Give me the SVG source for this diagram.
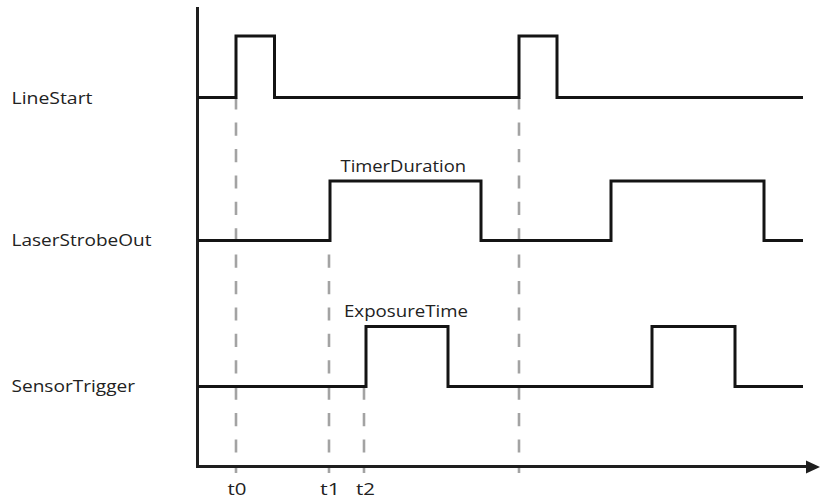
<svg xmlns="http://www.w3.org/2000/svg" width="820" height="499" viewBox="0 0 820 499">
<style>
.sig{fill:none;stroke:#141414;stroke-width:3;stroke-linejoin:miter;stroke-linecap:butt}
.axis{fill:none;stroke:#1e1e1e;stroke-width:3}
.dash{fill:none;stroke:#a3a3a3;stroke-width:2.6;stroke-dasharray:13.2 13.2;stroke-dashoffset:6}
text{font-family:"Open Sans","Liberation Sans",Arial,sans-serif;font-size:16.5px;fill:#222}
</style>
<rect width="820" height="499" fill="#fff"/>
<g id="connectors">
<path class="dash" d="M236,473 V98"/>
<path class="dash" d="M519,473 V98"/>
<path class="dash" d="M329,473 V241"/>
<path class="dash" d="M364,473 V387"/>
</g>
<g id="axes">
<path class="axis" d="M197.5,7 V468"/>
<path class="axis" d="M196,466.5 H808"/>
<polygon points="806,460.5 820,467 806,473.5" fill="#1e1e1e"/>
</g>
<g id="LineStart">
<path class="sig" d="M198,97.5 H236 V36 H274.5 V97.5 H519 V36 H557 V97.5 H803"/>
<text x="11.5" y="104" textLength="81" lengthAdjust="spacingAndGlyphs">LineStart</text>
</g>
<g id="LaserStrobeOut">
<path class="sig" d="M198,240.5 H330 V181 H481 V240.5 H611 V181 H764 V240.5 H803"/>
<text x="11.5" y="246" textLength="140" lengthAdjust="spacingAndGlyphs">LaserStrobeOut</text>
<text x="340.5" y="172" textLength="125.5" lengthAdjust="spacingAndGlyphs">TimerDuration</text>
</g>
<g id="SensorTrigger">
<path class="sig" d="M198,386.5 H366 V326.5 H448 V386.5 H652 V326.5 H735 V386.5 H803"/>
<text x="11.5" y="391.5" textLength="123.5" lengthAdjust="spacingAndGlyphs">SensorTrigger</text>
<text x="344" y="317" textLength="124" lengthAdjust="spacingAndGlyphs">ExposureTime</text>
</g>
<g id="ticks">
<text x="227.5" y="495" textLength="19" lengthAdjust="spacingAndGlyphs">t0</text>
<text x="320" y="495" textLength="20" lengthAdjust="spacingAndGlyphs">t1</text>
<text x="356" y="495" textLength="19" lengthAdjust="spacingAndGlyphs">t2</text>
</g>
</svg>
